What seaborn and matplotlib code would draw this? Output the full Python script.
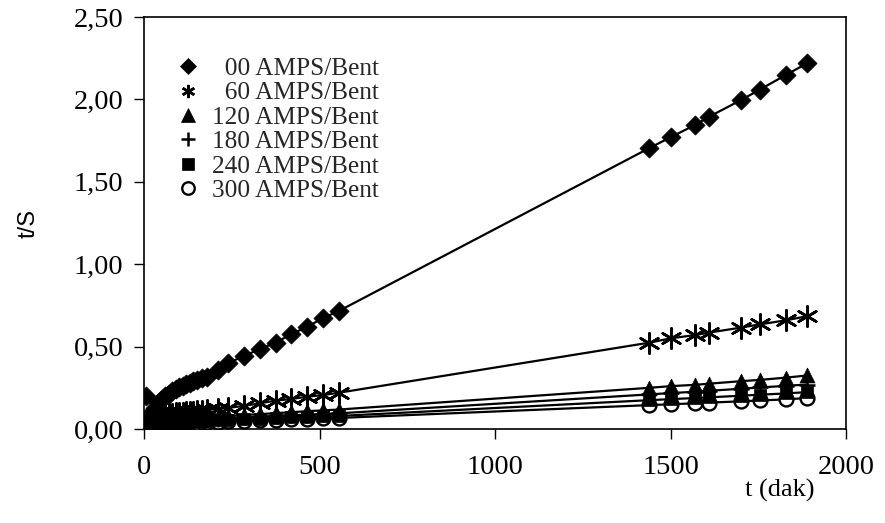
import numpy as np
import pandas as pd
import matplotlib
matplotlib.use("Agg")
import matplotlib.pyplot as plt
import seaborn as sns
from matplotlib.ticker import FuncFormatter
from matplotlib.lines import Line2D

# ---- data ----
t_early = [5, 10, 15, 20, 25, 30, 40, 50, 60, 70, 80, 90, 100, 110, 120, 130, 140,
           150, 165, 180, 210, 240, 285, 330, 375, 420, 465, 510, 555]
t_late = [1440, 1500, 1570, 1610, 1700, 1755, 1830, 1890]

# 00 AMPS/Bent: first reading (t=5) lies off the fitted line
outlier_t = [5]
outlier_00 = [0.20]
s00 = [0.045, 0.07, 0.09, 0.11, 0.13, 0.16, 0.185, 0.20, 0.215, 0.23, 0.242, 0.253,
       0.263, 0.273, 0.282, 0.29, 0.298, 0.308, 0.317, 0.355, 0.40, 0.443, 0.485,
       0.524, 0.576, 0.62, 0.673, 0.716,
       1.705, 1.77, 1.845, 1.895, 1.995, 2.06, 2.15, 2.22]
s60 = [0.04, 0.05, 0.06, 0.065, 0.07, 0.075, 0.08, 0.085, 0.088, 0.09, 0.093, 0.096,
       0.098, 0.10, 0.102, 0.104, 0.106, 0.108, 0.112, 0.116, 0.121, 0.128, 0.14,
       0.156, 0.172, 0.182, 0.196, 0.206, 0.22,
       0.524, 0.55, 0.57, 0.585, 0.615, 0.635, 0.66, 0.685]
s120 = [0.02, 0.025, 0.03, 0.033, 0.036, 0.038, 0.042, 0.045, 0.048, 0.05, 0.052,
        0.054, 0.056, 0.058, 0.06, 0.062, 0.064, 0.066, 0.068, 0.07, 0.074, 0.078,
        0.085, 0.09, 0.096, 0.102, 0.108, 0.113, 0.118,
        0.25, 0.26, 0.268, 0.275, 0.29, 0.298, 0.312, 0.325]
s180 = [0.015, 0.02, 0.024, 0.027, 0.03, 0.032, 0.035, 0.038, 0.04, 0.042, 0.044,
        0.046, 0.048, 0.05, 0.051, 0.053, 0.054, 0.056, 0.058, 0.06, 0.063, 0.066,
        0.071, 0.075, 0.079, 0.083, 0.087, 0.091, 0.095,
        0.21, 0.218, 0.226, 0.232, 0.244, 0.252, 0.262, 0.27]
s240 = [0.012, 0.016, 0.02, 0.022, 0.025, 0.027, 0.03, 0.032, 0.034, 0.036, 0.037,
        0.039, 0.04, 0.042, 0.043, 0.044, 0.046, 0.047, 0.049, 0.05, 0.053, 0.056,
        0.06, 0.063, 0.067, 0.07, 0.073, 0.076, 0.079,
        0.175, 0.181, 0.188, 0.192, 0.202, 0.208, 0.216, 0.224]
s300 = [0.01, 0.013, 0.016, 0.018, 0.02, 0.022, 0.025, 0.027, 0.029, 0.03, 0.032,
        0.033, 0.034, 0.035, 0.036, 0.037, 0.038, 0.039, 0.041, 0.042, 0.044, 0.047,
        0.05, 0.053, 0.056, 0.059, 0.062, 0.064, 0.067,
        0.145, 0.15, 0.156, 0.16, 0.168, 0.173, 0.18, 0.188]

labels = ["  00 AMPS/Bent", "  60 AMPS/Bent", "120 AMPS/Bent",
          "180 AMPS/Bent", "240 AMPS/Bent", "300 AMPS/Bent"]
x_ticks = [0, 500, 1000, 1500, 2000]
y_ticks = [0.0, 0.5, 1.0, 1.5, 2.0, 2.5]

# ---- build table ----
t_all = t_early + t_late
t_00 = t_early[1:] + t_late
rows = []
for lab, tt, vv in zip(labels,
                       [t_00, t_all, t_all, t_all, t_all, t_all],
                       [s00, s60, s120, s180, s240, s300]):
    for a, b in zip(tt, vv):
        rows.append((lab, a, b))
df = pd.DataFrame(rows, columns=["series", "t", "tS"])
df_out = pd.DataFrame({"series": labels[0], "t": outlier_t, "tS": outlier_00})

# ---- style ----
sns.set_theme(style="white")
plt.rcParams["font.family"] = ["Liberation Serif", "DejaVu Serif"]

fig = plt.figure(figsize=(8.85, 5.23), dpi=100)
ax = fig.add_axes([144 / 885, 1 - 429 / 523, 702 / 885, 412 / 523])

styles = {
    labels[0]: dict(marker="D", s=95, facecolor="black", lw=0.5),
    labels[1]: dict(marker=(6, 2, 0), s=210, facecolor="black", lw=1.9),
    labels[2]: dict(marker="^", s=115, facecolor="black", lw=0.5),
    labels[3]: dict(marker="+", s=130, facecolor="black", lw=1.8),
    labels[4]: dict(marker="s", s=85, facecolor="black", lw=0.5),
    labels[5]: dict(marker="o", s=100, facecolor="white", lw=1.7),
}

# draw in reverse order so the lower series sit beneath
for lab in labels[::-1]:
    sub = df[df.series == lab]
    sns.lineplot(data=sub, x="t", y="tS", ax=ax, color="black", linewidth=1.6,
                 sort=True, estimator=None, legend=False, zorder=2)
    st = styles[lab]
    sns.scatterplot(data=sub, x="t", y="tS", ax=ax, marker=st["marker"], s=st["s"],
                    color=st["facecolor"], edgecolor="black",
                    linewidth=st["lw"], legend=False, zorder=3)
st = styles[labels[0]]
sns.scatterplot(data=df_out, x="t", y="tS", ax=ax, marker=st["marker"], s=st["s"],
                color="black", edgecolor="black", linewidth=0.5, legend=False, zorder=3)

# legend
handles = []
leg_ms = [8.5, 9.5, 9.5, 10, 9, 9]
leg_mew = [0.5, 1.8, 0.5, 1.8, 0.5, 1.7]
for lab, ms, mew in zip(labels, leg_ms, leg_mew):
    st = styles[lab]
    handles.append(Line2D([], [], linestyle="none", marker=st["marker"],
                          markersize=ms, markerfacecolor=st["facecolor"],
                          markeredgecolor="black", markeredgewidth=mew))
leg = ax.legend(handles, labels, loc="upper left", bbox_to_anchor=(0.03, 0.933),
                frameon=False, fontsize=18.2, handlelength=0.8, handletextpad=0.55,
                labelspacing=0.07, borderpad=0.0)

ax.set_xlim(0, 2000)
ax.set_ylim(0, 2.5)
ax.set_xticks(x_ticks)
ax.set_yticks(y_ticks)
ax.yaxis.set_major_formatter(FuncFormatter(lambda v, p: f"{v:.2f}".replace(".", ",")))
ax.xaxis.set_major_formatter(FuncFormatter(lambda v, p: f"{v:.0f}"))
ax.tick_params(axis="both", which="major", direction="out", length=7, width=1.0,
               color="black", labelsize=20.5, labelcolor="black", bottom=True, left=True)
ax.tick_params(axis="x", pad=12)
ax.tick_params(axis="y", pad=8)
for sp in ax.spines.values():
    sp.set_visible(True)
    sp.set_color("black")
    sp.set_linewidth(1.2)

ax.set_xlabel("")
ax.set_ylabel("t/S", fontsize=17, color="black", labelpad=24,
              family=["Liberation Sans", "DejaVu Sans"])
ax.text(0.906, -0.148, "t (dak)", transform=ax.transAxes, ha="center", va="center",
        fontsize=19, color="black")

fig.savefig("out.png", dpi=100)
